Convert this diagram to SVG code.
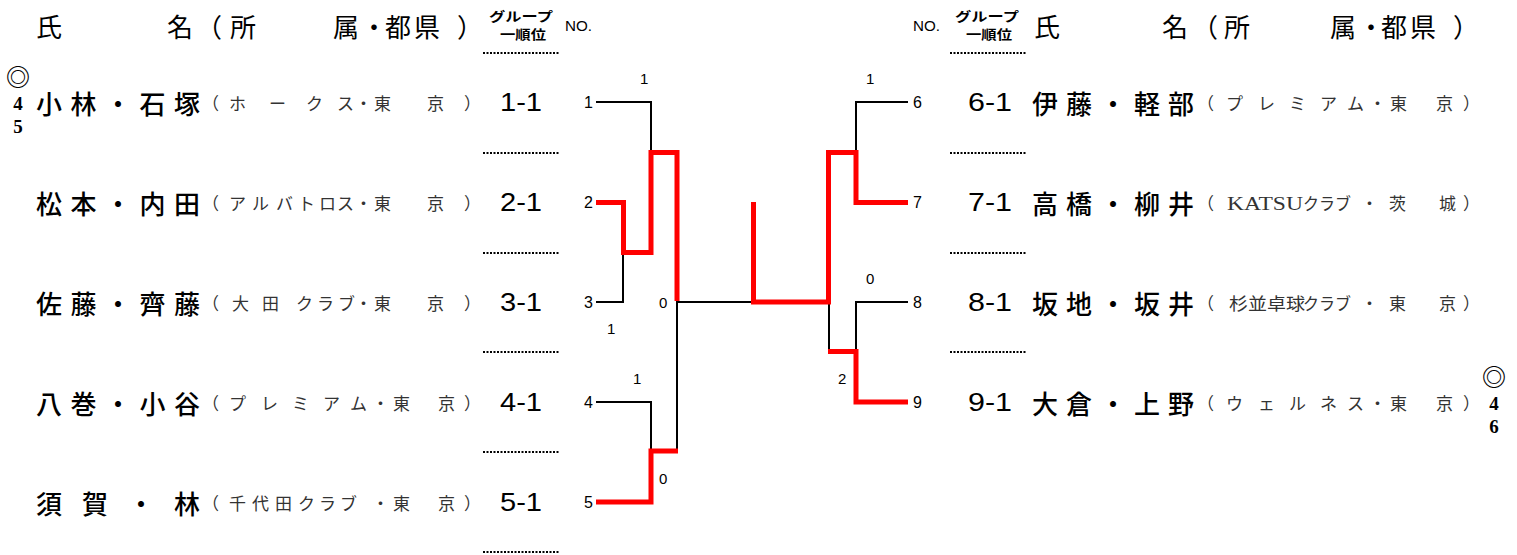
<svg xmlns="http://www.w3.org/2000/svg" width="1517" height="555" viewBox="0 0 1517 555">
<style>
text{dominant-baseline:central}
.hd{font-family:"Noto Sans CJK JP","Noto Sans",sans-serif;font-size:26px;fill:#000}
.gh{font-family:"Noto Sans CJK JP",sans-serif;font-size:13px;font-weight:bold;fill:#000}
.no{font-family:"Liberation Sans",Arial,sans-serif;font-size:14px;fill:#000}
.nm{font-family:"Noto Sans CJK JP",sans-serif;font-size:26px;font-weight:500;fill:#000}
.cl{font-family:"Noto Sans CJK JP",sans-serif;font-size:17px;fill:#333}
.lat{font-family:"Liberation Serif",serif;font-size:19px;fill:#333}
.gr{font-family:"Liberation Sans",Arial,sans-serif;font-size:25px;fill:#000}
.bn{font-family:"Liberation Sans",Arial,sans-serif;font-size:16px;fill:#000}
.sc{font-family:"Liberation Sans",Arial,sans-serif;font-size:15px;fill:#000}
.mk{font-family:"Liberation Serif",serif;font-size:19px;font-weight:bold;fill:#000;text-anchor:middle}
.ci{font-family:"Noto Sans CJK JP",sans-serif;font-size:24px;font-weight:bold;fill:#000;text-anchor:middle}
.dot{stroke:#000;stroke-width:2;stroke-dasharray:2 1.5;fill:none}
.bk{stroke:#000;stroke-width:2;fill:none}
.rd{stroke:#ff0000;stroke-width:5;fill:none;stroke-linejoin:miter}
</style>
<g id="header-left">
<text class="hd" x="36" y="25">氏</text>
<text class="hd" y="25" x="167 196 230 333 361 385 414 457">名（所属・都県）</text>
<text class="gh" x="489" y="15" textLength="64" lengthAdjust="spacingAndGlyphs">グループ</text>
<text class="gh" x="500" y="33" textLength="46" lengthAdjust="spacingAndGlyphs">一順位</text>
<text class="no" x="565" y="26" textLength="27" lengthAdjust="spacingAndGlyphs">NO.</text>
</g>
<g id="header-right">
<text class="no" x="913" y="26" textLength="27" lengthAdjust="spacingAndGlyphs">NO.</text>
<text class="gh" x="955" y="15" textLength="64" lengthAdjust="spacingAndGlyphs">グループ</text>
<text class="gh" x="966" y="33" textLength="46" lengthAdjust="spacingAndGlyphs">一順位</text>
<text class="hd" x="1034" y="25">氏</text>
<text class="hd" y="25" x="1162 1192 1224 1330 1358 1381 1410 1453">名（所属・都県）</text>
</g>
<g id="dotted-lines">
<path class="dot" d="M483 53H560M483 153H560M483 253H560M483 352H560M483 452H560M483 552H560"/>
<path class="dot" d="M950 53H1026M950 153H1026M950 253H1026M950 352H1026"/>
</g>
<g id="entry-1">
<text class="ci" x="18" y="75">◎</text>
<text class="mk" x="18" y="103">4</text>
<text class="mk" x="18" y="126">5</text>
<text class="nm" x="36" y="102" textLength="164" lengthAdjust="spacing">小林・石塚</text>
<text class="cl" y="102" x="202 229 269 306 337 355 374 427 464">（ホークス・東京）</text>
<text class="gr" x="500" y="102" textLength="42" lengthAdjust="spacingAndGlyphs">1-1</text>
<text class="bn" x="593" y="102" text-anchor="end">1</text>
</g>
<g id="entry-2">
<text class="nm" x="36" y="202" textLength="164" lengthAdjust="spacing">松本・内田</text>
<text class="cl" y="202" x="202 229 252 276 298 319 337 355 374 427 464">（アルバトロス・東京）</text>
<text class="gr" x="500" y="202" textLength="42" lengthAdjust="spacingAndGlyphs">2-1</text>
<text class="bn" x="593" y="202" text-anchor="end">2</text>
</g>
<g id="entry-3">
<text class="nm" x="36" y="302" textLength="164" lengthAdjust="spacing">佐藤・齊藤</text>
<text class="cl" y="302" x="202 232 262 296 317 338 355 374 427 464">（大田クラブ・東京）</text>
<text class="gr" x="500" y="302" textLength="42" lengthAdjust="spacingAndGlyphs">3-1</text>
<text class="bn" x="593" y="302" text-anchor="end">3</text>
</g>
<g id="entry-4">
<text class="nm" x="36" y="402" textLength="164" lengthAdjust="spacing">八巻・小谷</text>
<text class="cl" y="402" x="202 229 261 292 323 350 372 393 438 464">（プレミアム・東京）</text>
<text class="gr" x="500" y="402" textLength="42" lengthAdjust="spacingAndGlyphs">4-1</text>
<text class="bn" x="593" y="402" text-anchor="end">4</text>
</g>
<g id="entry-5">
<text class="nm" x="36" y="502" textLength="164" lengthAdjust="spacing">須賀・林</text>
<text class="cl" y="502" x="202 229 252 275 298 319 340 372 393 438 464">（千代田クラブ・東京）</text>
<text class="gr" x="500" y="502" textLength="42" lengthAdjust="spacingAndGlyphs">5-1</text>
<text class="bn" x="593" y="502" text-anchor="end">5</text>
</g>
<g id="entry-6">
<text class="bn" x="913" y="102">6</text>
<text class="gr" x="968" y="102" textLength="44" lengthAdjust="spacingAndGlyphs">6-1</text>
<text class="nm" x="1032" y="102" textLength="162" lengthAdjust="spacing">伊藤・軽部</text>
<text class="cl" y="102" x="1197 1226 1258 1289 1320 1347 1369 1390 1436 1463">（プレミアム・東京）</text>
</g>
<g id="entry-7">
<text class="bn" x="913" y="202">7</text>
<text class="gr" x="968" y="202" textLength="44" lengthAdjust="spacingAndGlyphs">7-1</text>
<text class="nm" x="1032" y="202" textLength="162" lengthAdjust="spacing">高橋・柳井</text>
<text class="cl" x="1197" y="202">（</text>
<text class="lat" x="1227" y="203" textLength="76" lengthAdjust="spacingAndGlyphs">KATSU</text>
<text class="cl" x="1303" y="202" textLength="48" lengthAdjust="spacingAndGlyphs">クラブ</text>
<text class="cl" y="202" x="1361 1389 1439 1463">・茨城）</text>
</g>
<g id="entry-8">
<text class="bn" x="913" y="302">8</text>
<text class="gr" x="968" y="302" textLength="44" lengthAdjust="spacingAndGlyphs">8-1</text>
<text class="nm" x="1032" y="302" textLength="162" lengthAdjust="spacing">坂地・坂井</text>
<text class="cl" x="1197" y="302">（</text>
<text class="cl" x="1229" y="302" textLength="76" lengthAdjust="spacingAndGlyphs">杉並卓球</text>
<text class="cl" x="1303" y="302" textLength="48" lengthAdjust="spacingAndGlyphs">クラブ</text>
<text class="cl" y="302" x="1361 1389 1439 1463">・東京）</text>
</g>
<g id="entry-9">
<text class="bn" x="913" y="402">9</text>
<text class="gr" x="968" y="402" textLength="44" lengthAdjust="spacingAndGlyphs">9-1</text>
<text class="nm" x="1032" y="402" textLength="162" lengthAdjust="spacing">大倉・上野</text>
<text class="cl" y="402" x="1197 1226 1258 1289 1320 1347 1369 1390 1436 1463">（ウェルネス・東京）</text>
<text class="ci" x="1494" y="375">◎</text>
<text class="mk" x="1494" y="403">4</text>
<text class="mk" x="1494" y="426">6</text>
</g>
<g id="connectors">
<path class="bk" d="M596 102H651V152"/>
<path class="bk" d="M596 302H623V252"/>
<path class="bk" d="M676 302H754"/>
<path class="bk" d="M677 302V452"/>
<path class="bk" d="M596 402H651V452"/>
<path class="bk" d="M908 102H856V152"/>
<path class="bk" d="M908 302H856V352"/>
<path class="bk" d="M829 302V352"/>
<path class="rd" d="M596 202.5H623.5V252.5H651V152.5H677V301"/>
<path class="rd" d="M596 502H651V451H678"/>
<path class="rd" d="M753.5 202V302H828.5V152.5H856V202.5H908"/>
<path class="rd" d="M828 351.5H856V402H908"/>
<text class="sc" x="640" y="78">1</text>
<text class="sc" x="607" y="328">1</text>
<text class="sc" x="659" y="302">0</text>
<text class="sc" x="633" y="378">1</text>
<text class="sc" x="659" y="478">0</text>
<text class="sc" x="866" y="78">1</text>
<text class="sc" x="866" y="278">0</text>
<text class="sc" x="838" y="378">2</text>
</g>
</svg>
